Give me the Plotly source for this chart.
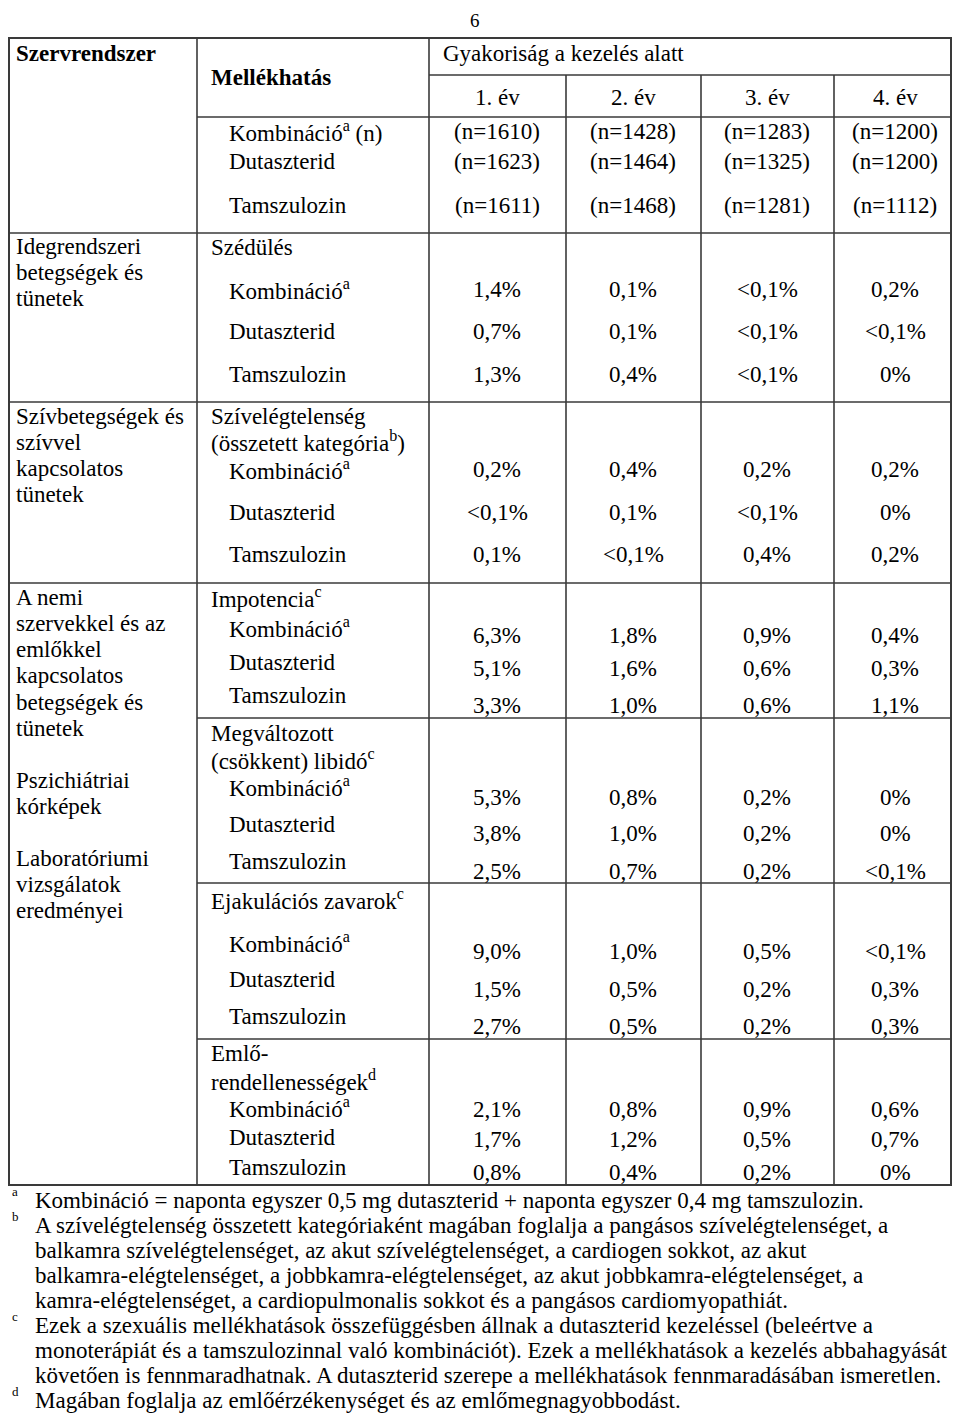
import plotly.graph_objects as go

# ---------------------------------------------------------------------------
# Data
# ---------------------------------------------------------------------------
YEARS = ["1. év", "2. év", "3. év", "4. év"]
TREATMENTS = ["Kombináció<sup>a</sup>", "Dutaszterid", "Tamszulozin"]

N_KOMBINACIO = ["(n=1610)", "(n=1428)", "(n=1283)", "(n=1200)"]
N_DUTASZTERID = ["(n=1623)", "(n=1464)", "(n=1325)", "(n=1200)"]
N_TAMSZULOZIN = ["(n=1611)", "(n=1468)", "(n=1281)", "(n=1112)"]

SZEDULES_K = ["1,4%", "0,1%", "<0,1%", "0,2%"]
SZEDULES_D = ["0,7%", "0,1%", "<0,1%", "<0,1%"]
SZEDULES_T = ["1,3%", "0,4%", "<0,1%", "0%"]

SZIV_K = ["0,2%", "0,4%", "0,2%", "0,2%"]
SZIV_D = ["<0,1%", "0,1%", "<0,1%", "0%"]
SZIV_T = ["0,1%", "<0,1%", "0,4%", "0,2%"]

IMPOTENCIA_K = ["6,3%", "1,8%", "0,9%", "0,4%"]
IMPOTENCIA_D = ["5,1%", "1,6%", "0,6%", "0,3%"]
IMPOTENCIA_T = ["3,3%", "1,0%", "0,6%", "1,1%"]

LIBIDO_K = ["5,3%", "0,8%", "0,2%", "0%"]
LIBIDO_D = ["3,8%", "1,0%", "0,2%", "0%"]
LIBIDO_T = ["2,5%", "0,7%", "0,2%", "<0,1%"]

EJAKULACIO_K = ["9,0%", "1,0%", "0,5%", "<0,1%"]
EJAKULACIO_D = ["1,5%", "0,5%", "0,2%", "0,3%"]
EJAKULACIO_T = ["2,7%", "0,5%", "0,2%", "0,3%"]

EMLO_K = ["2,1%", "0,8%", "0,9%", "0,6%"]
EMLO_D = ["1,7%", "1,2%", "0,5%", "0,7%"]
EMLO_T = ["0,8%", "0,4%", "0,2%", "0%"]

ORGAN_SYSTEMS = [
    ["Idegrendszeri", "betegségek és", "tünetek"],
    ["Szívbetegségek és", "szívvel", "kapcsolatos", "tünetek"],
    ["A nemi", "szervekkel és az", "emlőkkel", "kapcsolatos", "betegségek és", "tünetek"],
    ["Pszichiátriai", "kórképek"],
    ["Laboratóriumi", "vizsgálatok", "eredményei"],
]

FOOTNOTES = [
    ("a", ["Kombináció = naponta egyszer 0,5 mg dutaszterid + naponta egyszer 0,4 mg tamszulozin."]),
    ("b", ["A szívelégtelenség összetett kategóriaként magában foglalja a pangásos szívelégtelenséget, a",
           "balkamra szívelégtelenséget, az akut szívelégtelenséget, a cardiogen sokkot, az akut",
           "balkamra-elégtelenséget, a jobbkamra-elégtelenséget, az akut jobbkamra-elégtelenséget, a",
           "kamra-elégtelenséget, a cardiopulmonalis sokkot és a pangásos cardiomyopathiát."]),
    ("c", ["Ezek a szexuális mellékhatások összefüggésben állnak a dutaszterid kezeléssel (beleértve a",
           "monoterápiát és a tamszulozinnal való kombinációt). Ezek a mellékhatások a kezelés abbahagyását",
           "követően is fennmaradhatnak. A dutaszterid szerepe a mellékhatások fennmaradásában ismeretlen."]),
    ("d", ["Magában foglalja az emlőérzékenységet és az emlőmegnagyobbodást."]),
]

# ---------------------------------------------------------------------------
# Layout: axis units are page pixels. The page body has an 8px margin on every
# side, so the figure is 16px smaller than the window and its ranges start at 8.
# ---------------------------------------------------------------------------
OFF = 8
W, H = 960, 1422
FONT = "Liberation Serif, Times New Roman, serif"
FS = 23
COL_X = [497, 633, 767, 895]
X_ORGAN, X_HEAD, X_TREAT = 14, 209, 227
LINE = "#3a3a3a"

annotations = []


def text(x, y, s, anchor="left", size=FS, bold=False):
    if bold:
        s = "<b>" + s + "</b>"
    annotations.append(dict(
        x=x, y=y, xref="x", yref="y", text=s, showarrow=False,
        xanchor=anchor, yanchor="middle",
        font=dict(family=FONT, size=size, color="black"),
    ))


def value_rows(rows, label_ys, value_ys):
    for label, vals, ly, vy in zip(TREATMENTS, rows, label_ys, value_ys):
        text(X_TREAT, ly, label)
        for x, v in zip(COL_X, vals):
            text(x, vy, v, anchor="center")


# page number
text(475, 20, "6", anchor="center", size=19)

# header
text(X_ORGAN, 53, "Szervrendszer", bold=True)
text(X_HEAD, 77, "Mellékhatás", bold=True)
text(441, 53, "Gyakoriság a kezelés alatt")
for x, y in zip(COL_X, YEARS):
    text(x, 97, y, anchor="center")
n_labels = ["Kombináció<sup>a</sup> (n)", "Dutaszterid", "Tamszulozin"]
for label, vals, y in zip(n_labels, [N_KOMBINACIO, N_DUTASZTERID, N_TAMSZULOZIN], [131, 161, 205]):
    text(X_TREAT, y, label)
    for x, v in zip(COL_X, vals):
        text(x, y, v, anchor="center")

# organ-system column
organ_tops = [246, 416, 597, 780, 858]
for lines, top in zip(ORGAN_SYSTEMS, organ_tops):
    for i, s in enumerate(lines):
        text(X_ORGAN, top + i * 26.3, s)

# Szédülés
text(X_HEAD, 247, "Szédülés")
value_rows([SZEDULES_K, SZEDULES_D, SZEDULES_T], [289, 331, 374], [289, 331, 374])

# Szívelégtelenség
text(X_HEAD, 416, "Szívelégtelenség")
text(X_HEAD, 441, "(összetett kategória<sup>b</sup>)")
value_rows([SZIV_K, SZIV_D, SZIV_T], [469, 512, 554], [469, 512, 554])

# Impotencia
text(X_HEAD, 597, "Impotencia<sup>c</sup>")
value_rows([IMPOTENCIA_K, IMPOTENCIA_D, IMPOTENCIA_T], [627, 662, 695], [635, 668, 705])

# Libidó
text(X_HEAD, 733, "Megváltozott")
text(X_HEAD, 759, "(csökkent) libidó<sup>c</sup>")
value_rows([LIBIDO_K, LIBIDO_D, LIBIDO_T], [786, 824, 861], [797, 833, 871])

# Ejakulációs zavarok
text(X_HEAD, 899, "Ejakulációs zavarok<sup>c</sup>")
value_rows([EJAKULACIO_K, EJAKULACIO_D, EJAKULACIO_T], [942, 979, 1016], [951, 989, 1026])

# Emlő-rendellenességek
text(X_HEAD, 1053, "Emlő-")
text(X_HEAD, 1080, "rendellenességek<sup>d</sup>")
value_rows([EMLO_K, EMLO_D, EMLO_T], [1107, 1137, 1167], [1109, 1139, 1172])

# footnotes (squeezed a little so the last line stays inside the figure)
fy = 1200
for mark, lines in FOOTNOTES:
    text(10, fy - 9, mark, size=13)
    for s in lines:
        text(33, fy, s)
        fy += 25.1

# table rules
L, R, T, B = 9, 951, 38, 1185
C1, C2 = 197, 429
YC = [566, 701, 834]


def hline(y, x0=L, x1=R, w=1.6):
    return dict(type="line", xref="x", yref="y", x0=x0, x1=x1, y0=y, y1=y,
                line=dict(color=LINE, width=w))


def vline(x, y0=T, y1=B, w=1.6):
    return dict(type="line", xref="x", yref="y", x0=x, x1=x, y0=y0, y1=y1,
                line=dict(color=LINE, width=w))


shapes = [
    dict(type="rect", xref="x", yref="y", x0=L, x1=R, y0=T, y1=B,
         line=dict(color=LINE, width=2)),
    vline(C1), vline(C2),
    hline(75, C2), hline(117, C1),
    hline(233), hline(402), hline(583),
    hline(718, C1), hline(883, C1), hline(1039, C1),
]
shapes += [vline(x, 75) for x in YC]

fig = go.Figure()
fig.update_layout(
    width=W - 2 * OFF, height=H - 2 * OFF,
    margin=dict(l=0, r=0, t=0, b=0),
    paper_bgcolor="white", plot_bgcolor="white",
    xaxis=dict(range=[OFF, W - OFF], visible=False, fixedrange=True),
    yaxis=dict(range=[H - OFF, OFF], visible=False, fixedrange=True),
    showlegend=False,
    annotations=annotations,
    shapes=shapes,
)
fig.write_html("out.html")
